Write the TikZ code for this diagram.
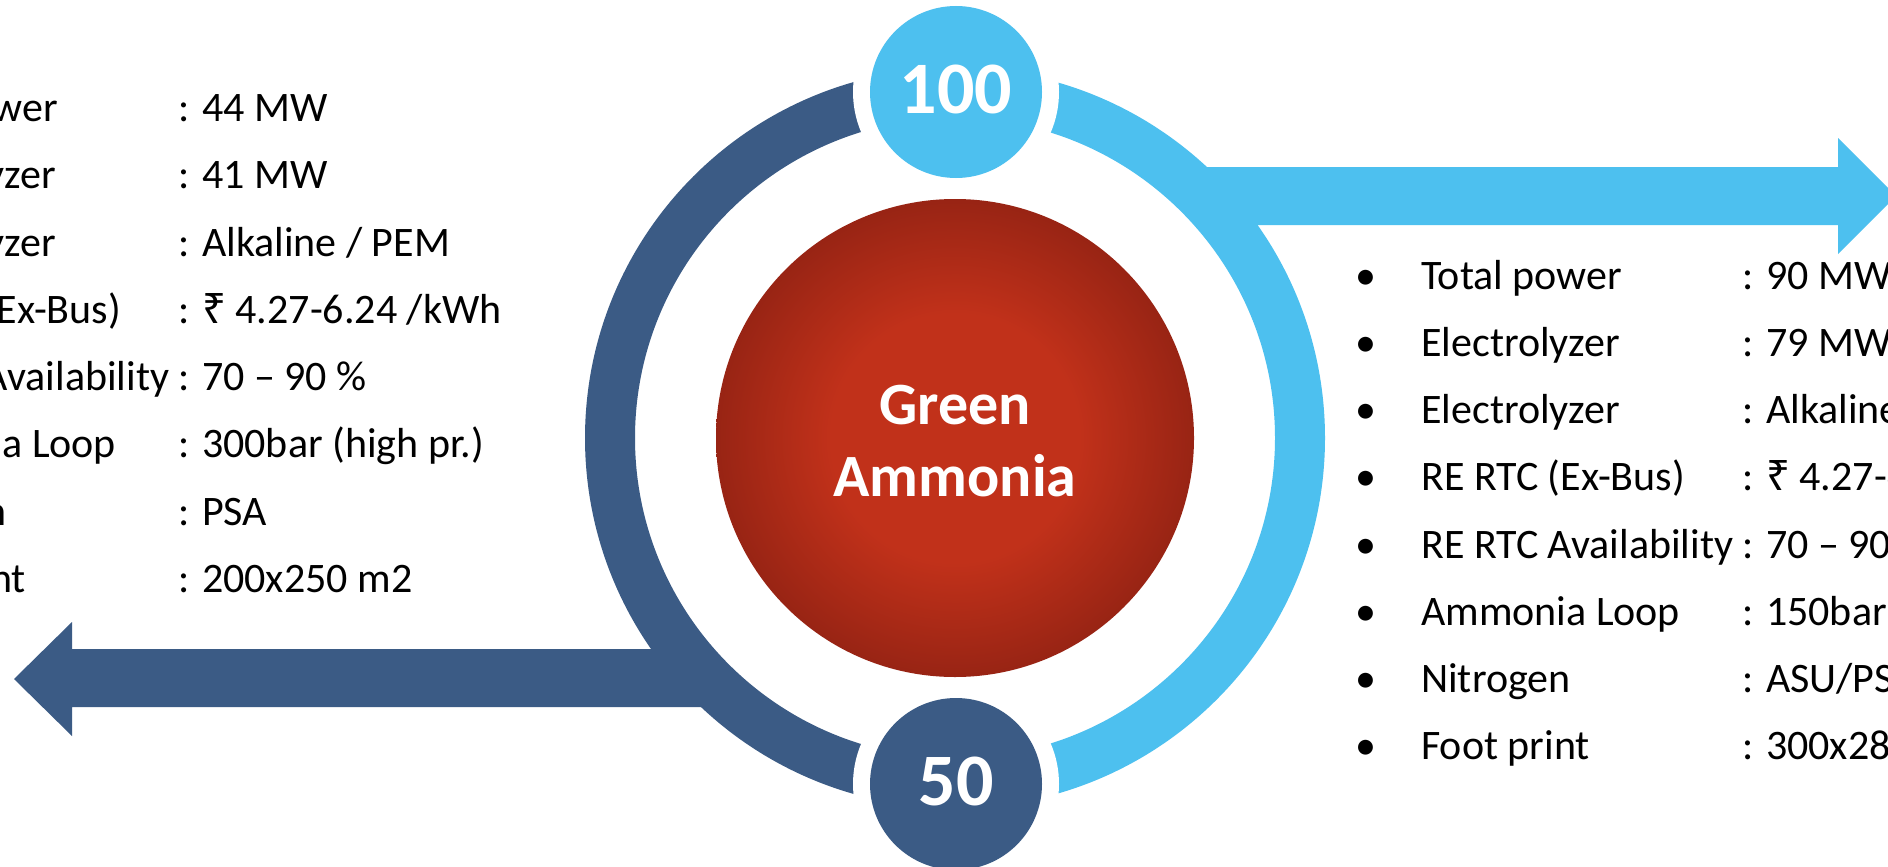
\documentclass[tikz,border=0pt]{standalone}
\usepackage{fontspec}
\setmainfont{Carlito}
\newfontfamily\rupeefont{Noto Sans}
\definecolor{lblue}{RGB}{77,192,239}
\definecolor{dblue}{RGB}{59,91,133}
\definecolor{redc}{RGB}{193,49,26}
\definecolor{rede}{RGB}{152,36,20}
\pgfdeclareradialshading{redball}{\pgfpoint{0bp}{0bp}}{color(0bp)=(redc); color(13bp)=(redc); color(25bp)=(rede); color(50bp)=(rede)}
\newcommand{\rs}{{\rupeefont ₹}}
\newcommand{\listrow}[5]{%
  \node[bul] (#1b) at (#2+1366,#3) {•};
  \node[listtxt] (#1l) at (#2+1421,#3) {#4};
  \node[listtxt] (#1v) at (#2+1742,#3) {: #5};
}
\begin{document}
\begin{tikzpicture}[x=1pt,y=-1pt,
  listtxt/.style={anchor=base west, inner sep=0pt, font=\fontsize{42}{50}\selectfont},
  bul/.style={anchor=base, inner sep=0pt, font=\fontsize{42}{50}\selectfont},
  numtxt/.style={text=white, inner sep=0pt, font=\bfseries\fontsize{74}{80}\selectfont},
  smallc/.style={circle, inner sep=0pt, minimum size=172pt},
  gapc/.style={white}]
\useasboundingbox (0,0) rectangle (1888,867);
\clip (0,0) rectangle (1888,867);
\fill[white] (0,0) rectangle (1888,867);
\coordinate (rc) at (955,438);
% arrows
\fill[lblue] (1200,167) -- (1838,167) -- (1838,138) -- (1896,196) -- (1838,254) -- (1838,225) -- (1200,225) -- cycle;
\fill[dblue] (707,649) -- (72,649) -- (72,622) -- (14,679) -- (72,736) -- (72,707) -- (707,707) -- cycle;
% ring halves
\begin{scope}
  \clip (955,-20) rectangle (1900,900);
  \fill[lblue, even odd rule] (rc) circle[radius=370] (rc) circle[radius=320];
\end{scope}
\begin{scope}
  \clip (-20,-20) rectangle (955,900);
  \fill[dblue, even odd rule] (rc) circle[radius=370] (rc) circle[radius=320];
\end{scope}
% gaps round the small circles
\fill[gapc] (956,92) circle[radius=103];
\fill[gapc] (956,784) circle[radius=103];
\node[smallc, fill=lblue] (topc) at (956,92) {};
\node[smallc, fill=dblue] (botc) at (956,784) {};
\node[numtxt] (toptxt) at (956,89) {100};
\node[numtxt] (bottxt) at (956,781) {50};
% core
\node[circle, inner sep=0pt, minimum size=478pt, shading=redball] (core) at (rc) {};
\node[text=white, align=center, inner sep=0pt, font=\bfseries\fontsize{60}{72}\selectfont] (coretxt) at (955,441) {Green\\Ammonia};
% right list
\listrow{r1}{0}{289}{Total power}{90 MW}
\listrow{r2}{0}{356.25}{Electrolyzer}{79 MW}
\listrow{r3}{0}{423.5}{Electrolyzer}{Alkaline / PEM}
\listrow{r4}{0}{490.75}{RE RTC (Ex-Bus)}{\rs\ 4.27-6.24 /kWh}
\listrow{r5}{0}{558}{RE RTC Availability}{70 – 90 \%}
\listrow{r6}{0}{625.25}{Ammonia Loop}{150bar (low pr.)}
\listrow{r7}{0}{692.5}{Nitrogen}{ASU/PSA}
\listrow{r8}{0}{759.75}{Foot print}{300x280 m2}
% left list
\listrow{l1}{-1564}{121.5}{Total power}{44 MW}
\listrow{l2}{-1564}{188.75}{Electrolyzer}{41 MW}
\listrow{l3}{-1564}{256}{Electrolyzer}{Alkaline / PEM}
\listrow{l4}{-1564}{323.25}{RE RTC (Ex-Bus)}{\rs\ 4.27-6.24 /kWh}
\listrow{l5}{-1564}{390.5}{RE RTC Availability}{70 – 90 \%}
\listrow{l6}{-1564}{457.75}{Ammonia Loop}{300bar (high pr.)}
\listrow{l7}{-1564}{525}{Nitrogen}{PSA}
\listrow{l8}{-1564}{592.25}{Foot print}{200x250 m2}
\end{tikzpicture}
\end{document}
